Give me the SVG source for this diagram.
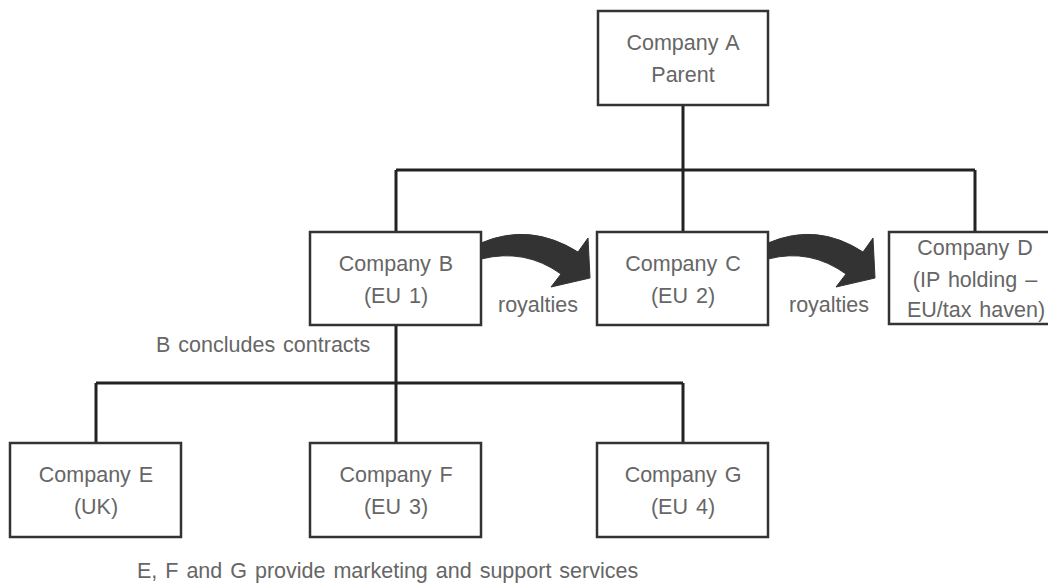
<svg xmlns="http://www.w3.org/2000/svg" width="1048" height="587" viewBox="0 0 1048 587">
<style>
.box{fill:#fff;stroke:#333;stroke-width:2.5}
.t{font-family:"Liberation Sans",Arial,sans-serif;font-size:21.5px;fill:#666;text-anchor:middle;word-spacing:2px}
.l{font-family:"Liberation Sans",Arial,sans-serif;font-size:21.5px;fill:#666;word-spacing:2px}
.c{fill:none;stroke:#222;stroke-width:3}
.arr{fill:#333;stroke:#333;stroke-width:1;stroke-linejoin:round}
</style>
<rect width="1048" height="587" fill="#fff"/>
<g id="connectors">
<path class="c" d="M683,105 V170 M396,170 H975 M396,170 V232 M683,170 V232 M975,170 V232"/>
<path class="c" d="M396,325 V383 M96,383 H683 M96,383 V443 M396,383 V443 M683,383 V443"/>
<path class="arr" d="M481,243 Q530,222 578,252 L588,238 L590,278 L551,287 L561,274 Q525,248 481,259 Z"/>
<path class="arr" d="M768,243 Q817,222 863,252 L873,238 L875,278 L836,287 L846,274 Q810,248 768,259 Z"/>
</g>
<g id="nodeA"><rect class="box" x="598" y="11" width="170" height="94"/><text class="t" x="683" y="50">Company A</text><text class="t" x="683" y="82">Parent</text></g>
<g id="nodeB"><rect class="box" x="310" y="232" width="171" height="93"/><text class="t" x="396" y="271">Company B</text><text class="t" x="396" y="303">(EU 1)</text></g>
<g id="nodeC"><rect class="box" x="597" y="232" width="171" height="93"/><text class="t" x="683" y="271">Company C</text><text class="t" x="683" y="303">(EU 2)</text></g>
<g id="nodeD"><rect class="box" x="889" y="232" width="172" height="92"/><text class="t" x="975" y="255">Company D</text><text class="t" x="975" y="287">(IP holding –</text><text class="t" x="976" y="317">EU/tax haven)</text></g>
<g id="nodeE"><rect class="box" x="10" y="443" width="171" height="94"/><text class="t" x="96" y="482">Company E</text><text class="t" x="96" y="514">(UK)</text></g>
<g id="nodeF"><rect class="box" x="310" y="443" width="171" height="94"/><text class="t" x="396" y="482">Company F</text><text class="t" x="396" y="514">(EU 3)</text></g>
<g id="nodeG"><rect class="box" x="597" y="443" width="171" height="94"/><text class="t" x="683" y="482">Company G</text><text class="t" x="683" y="514">(EU 4)</text></g>
<g id="labels">
<text class="t" x="538" y="312">royalties</text>
<text class="t" x="829" y="312">royalties</text>
<text class="l" x="156" y="352">B concludes contracts</text>
<text class="l" x="137" y="578">E, F and G provide marketing and support services</text>
</g>
</svg>
